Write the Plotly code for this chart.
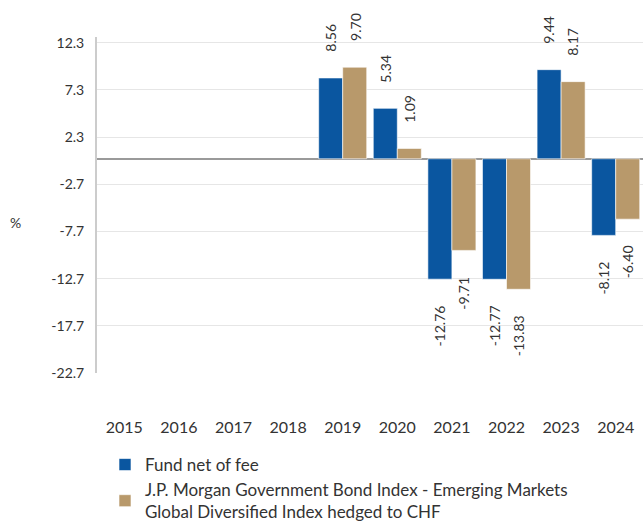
import plotly.graph_objects as go

years = ["2015", "2016", "2017", "2018", "2019", "2020", "2021", "2022", "2023", "2024"]
fund = [None, None, None, None, 8.56, 5.34, -12.76, -12.77, 9.44, -8.12]
bench = [None, None, None, None, 9.70, 1.09, -9.71, -13.83, 8.17, -6.40]
y_ticks = [12.3, 7.3, 2.3, -2.7, -7.7, -12.7, -17.7, -22.7]
fund_name = "Fund net of fee"
bench_name = "J.P. Morgan Government Bond Index - Emerging Markets<br>Global Diversified Index hedged to CHF"

BLUE = "#0A56A0"
GOLD = "#B8996B"
FONT = "Lato, 'Open Sans', sans-serif"

W, H = 643, 523
L, R, T, B = 97, 0, 37, 150

fig = go.Figure()
fig.add_trace(go.Bar(x=years, y=fund, name=fund_name, marker=dict(color=BLUE, line=dict(color="rgba(255,255,255,0.6)", width=1))))
fig.add_trace(go.Bar(x=years, y=bench, name=bench_name, marker=dict(color=GOLD, line=dict(color="rgba(255,255,255,0.6)", width=1))))

annotations = []
for series, shift in ((fund, -12), (bench, 12)):
    for i, v in enumerate(series):
        if v is None:
            continue
        pos = v >= 0
        annotations.append(dict(
            x=i, y=v, xref="x", yref="y", text=f"{v:.2f}", showarrow=False,
            textangle=-90, xshift=shift, yshift=24 if pos else -24,
            yanchor="bottom" if pos else "top", xanchor="center",
            font=dict(family=FONT, size=14, color="#333333"),
        ))

pw, ph = W - L - R, H - T - B
annotations.append(dict(x=(15 - L) / pw, y=(H - B - 222) / ph, xref="paper", yref="paper",
                        text="%", showarrow=False, xanchor="center", yanchor="middle",
                        font=dict(family=FONT, size=14, color="#333333")))

fig.update_layout(
    width=W, height=H,
    margin=dict(l=L, r=R, t=T, b=B, autoexpand=False),
    paper_bgcolor="white", plot_bgcolor="white",
    barmode="group", bargap=0.12, bargroupgap=0,
    font=dict(family=FONT, size=14, color="#333333"),
    showlegend=True,
    legend=dict(orientation="v", x=105 / W, xanchor="left", xref="container",
                y=1 - 447 / H, yanchor="top", yref="container",
                font=dict(family=FONT, size=17, color="#333333"),
                itemwidth=30, tracegroupgap=3, bgcolor="rgba(0,0,0,0)"),
    xaxis=dict(type="category", range=[-0.5, 9.5], showgrid=False, showline=False,
               ticks="", ticklabelstandoff=43, tickfont=dict(family=FONT, size=16, color="#333333")),
    yaxis=dict(range=[-22.7, 12.9], tickmode="array", tickvals=y_ticks,
               ticktext=[f"{t:.1f}" for t in y_ticks],
               showgrid=True, gridcolor="#E6E6E6", gridwidth=1,
               zeroline=True, zerolinecolor="#9A9A9A", zerolinewidth=2,
               showline=True, linecolor="#CCCCCC", linewidth=2,
               ticks="", ticklabelstandoff=8, tickfont=dict(family=FONT, size=14, color="#333333")),
    annotations=annotations,
)

fig.write_html("out.html")
